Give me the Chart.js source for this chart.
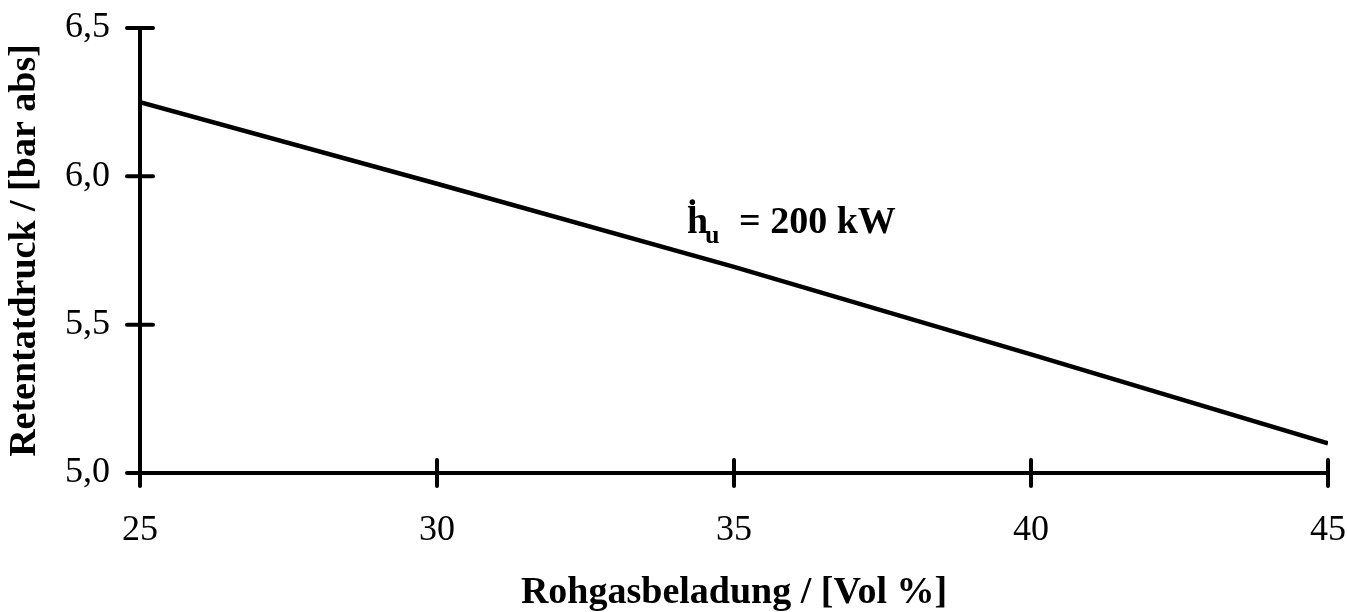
<!DOCTYPE html>
<html>
<head>
<meta charset="utf-8">
<script src="https://cdn.jsdelivr.net/npm/chart.js@4.4.1/dist/chart.umd.min.js"></script>
<style>
  html, body { margin: 0; padding: 0; background: #fff; }
  #wrap { width: 1347px; height: 612px; }
</style>
</head>
<body>
<div id="wrap"><canvas id="chart" width="1347" height="612"></canvas></div>
<script>
var xValues = [25, 30, 35, 40, 45];
var pressure = [6.25, 5.975, 5.695, 5.40, 5.10];
var xTicks = [25, 30, 35, 40, 45];
var yTicks = [5.0, 5.5, 6.0, 6.5];
var serif = "'Liberation Serif', 'Times New Roman', serif";

function fmt(v) {
    return v.toFixed(1).replace('.', ',');
}

// cross shaped tick marks on both axes
var crossTicks = {
    id: 'crossTicks',
    afterDraw: function(chart) {
        var ctx = chart.ctx;
        var xs = chart.scales.x, ys = chart.scales.y;
        var a = chart.chartArea;
        ctx.save();
        ctx.strokeStyle = '#000';
        ctx.lineWidth = 4;
        ctx.lineCap = 'round';
        xTicks.forEach(function(t) {
            var px = xs.getPixelForValue(t);
            ctx.beginPath();
            ctx.moveTo(px, a.bottom - 13);
            ctx.lineTo(px, a.bottom + 13);
            ctx.stroke();
        });
        yTicks.forEach(function(t) {
            var py = ys.getPixelForValue(t);
            ctx.beginPath();
            ctx.moveTo(a.left - 13, py);
            ctx.lineTo(a.left + 13, py);
            ctx.stroke();
        });
        ctx.restore();
    }
};

var annotation = {
    id: 'annotation',
    afterDraw: function(chart) {
        var ctx = chart.ctx;
        var px = chart.scales.x.getPixelForValue(34.21);
        var py = chart.scales.y.getPixelForValue(5.809);
        ctx.save();
        ctx.fillStyle = '#000';
        ctx.textBaseline = 'alphabetic';
        ctx.textAlign = 'left';
        ctx.font = "bold 38px " + serif;
        ctx.fillText('h', px, py);
        ctx.fillText('\u02D9', px - 1, py - 7);
        ctx.font = "bold 26px " + serif;
        ctx.fillText('u', px + 18, py + 10);
        ctx.font = "bold 38px " + serif;
        ctx.fillText('= 200 kW', px + 52, py);
        ctx.restore();
    }
};

function noPad(s) {
    s.paddingLeft = 0;
    s.paddingRight = 0;
    s.paddingTop = 0;
    s.paddingBottom = 0;
}

new Chart(document.getElementById('chart'), {
    type: 'line',
    data: {
        datasets: [{
            data: xValues.map(function(x, i) { return { x: x, y: pressure[i] }; }),
            borderColor: '#000',
            borderWidth: 4.5,
            pointRadius: 0,
            fill: false,
            tension: 0
        }]
    },
    options: {
        responsive: false,
        animation: false,
        layout: { padding: { top: 28, right: 19, bottom: 0, left: 0 } },
        plugins: {
            legend: { display: false },
            tooltip: { enabled: false }
        },
        scales: {
            x: {
                type: 'linear',
                min: 25,
                max: 45,
                afterBuildTicks: function(s) { s.ticks = xTicks.map(function(v) { return { value: v }; }); },
                afterFit: function(s) { s.height = 139; noPad(s); },
                grid: { display: false, drawTicks: false },
                border: { display: true, color: '#000', width: 4 },
                ticks: {
                    color: '#000',
                    padding: 36,
                    maxRotation: 0,
                    font: { family: serif, size: 36 }
                },
                title: {
                    display: true,
                    text: 'Rohgasbeladung / [Vol %]',
                    color: '#000',
                    font: { family: serif, size: 38, weight: 'bold', lineHeight: 1.0 },
                    padding: { top: 14, bottom: 0 }
                }
            },
            y: {
                type: 'linear',
                min: 5.0,
                max: 6.5,
                afterBuildTicks: function(s) { s.ticks = yTicks.map(function(v) { return { value: v }; }); },
                afterFit: function(s) { s.width = 140; noPad(s); },
                grid: { display: false, drawTicks: false },
                border: { display: true, color: '#000', width: 4 },
                ticks: {
                    color: '#000',
                    padding: 30,
                    font: { family: serif, size: 36 },
                    callback: function(v) { return fmt(v); }
                },
                title: {
                    display: true,
                    text: 'Retentatdruck / [bar abs]',
                    color: '#000',
                    font: { family: serif, size: 38, weight: 'bold' },
                    padding: { top: 2, bottom: 0 }
                }
            }
        }
    },
    plugins: [crossTicks, annotation]
});
</script>
</body>
</html>
